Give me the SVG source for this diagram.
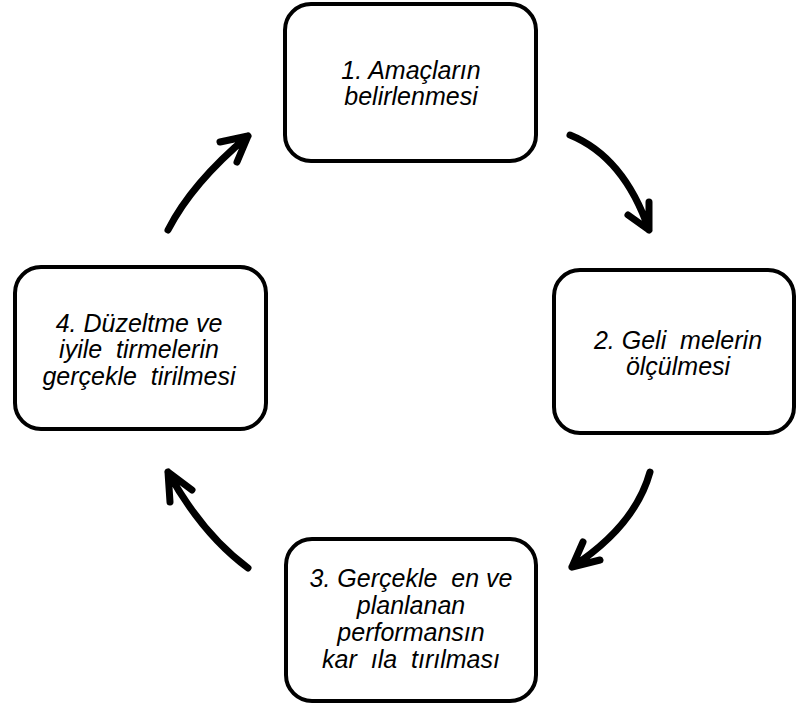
<svg xmlns="http://www.w3.org/2000/svg" width="798" height="708" viewBox="0 0 798 708">
<style>
.box{fill:#fff;stroke:#000;stroke-width:4}
.t{font-family:"Liberation Sans",Arial,sans-serif;font-style:italic;font-size:25px;fill:#000;text-anchor:middle;white-space:pre}
.arr{fill:none;stroke:#000;stroke-width:7;stroke-linecap:round;stroke-linejoin:round}
</style>
<rect width="798" height="708" fill="#fff"/>
<g id="node1"><rect class="box" x="285" y="4" width="251" height="157" rx="26"/>
<text class="t" x="411" y="79">1. Amaçların</text><text class="t" x="411" y="105">belirlenmesi</text></g>
<g id="node2"><rect class="box" x="554" y="270" width="240" height="163" rx="26"/>
<text class="t" x="678" y="349" xml:space="preserve">2. Geli  melerin</text><text class="t" x="678" y="375">ölçülmesi</text></g>
<g id="node3"><rect class="box" x="286" y="539" width="250" height="162" rx="26"/>
<text class="t" x="411" y="587" xml:space="preserve">3. Gerçekle  en ve</text><text class="t" x="411" y="614">planlanan</text><text class="t" x="411" y="641">performansın</text><text class="t" x="411" y="668" xml:space="preserve">kar  ıla  tırılması</text></g>
<g id="node4"><rect class="box" x="15" y="267" width="251" height="162" rx="26"/>
<text class="t" x="139" y="332">4. Düzeltme ve</text><text class="t" x="139" y="358" xml:space="preserve">iyile  tirmelerin</text><text class="t" x="139" y="385" xml:space="preserve">gerçekle  tirilmesi</text></g>
<g id="connectors">
<path class="arr" d="M168,230 Q192,183 248,136 M220,142 L248,136 L237,162"/>
<path class="arr" d="M570,135 Q624,157 649,230 M628,215 L649,230 L649,202"/>
<path class="arr" d="M650,472 Q635,526 572,567 M583,542 L572,567 L600,560"/>
<path class="arr" d="M248,568 Q202,534 168,472 M170,502 L168,472 L192,490"/>
</g>
</svg>
